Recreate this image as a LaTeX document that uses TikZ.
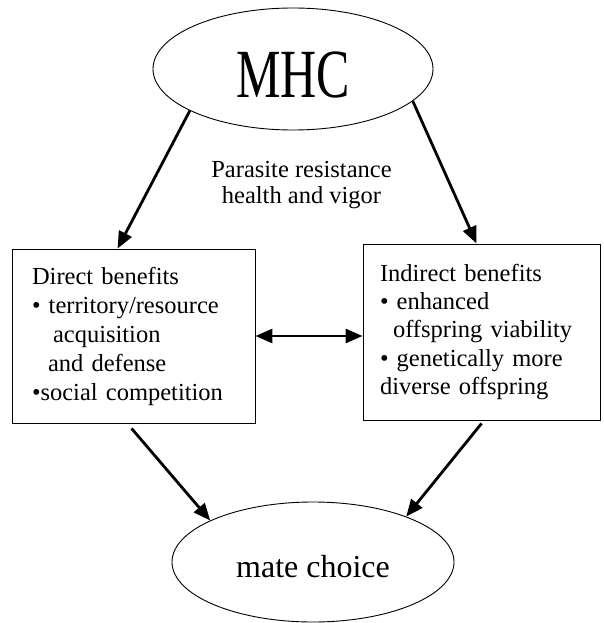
\documentclass[tikz,border=0pt]{standalone}
\usepackage{fontspec}
\setmainfont{Liberation Serif}
\usetikzlibrary{shapes.geometric,arrows.meta}
\begin{document}
\begin{tikzpicture}[x=1pt,y=1pt,
  oval/.style={draw,line width=0.9pt,ellipse,inner sep=0pt,text depth=0pt},
  benefitbox/.style={draw,line width=0.9pt,rectangle,inner ysep=0pt,align=left,text width=203pt},
  boxtext/.style={font=\fontsize{24.5}{29}\selectfont},
  lbl/.style={inner sep=0pt,font=\fontsize{24.5}{26}\selectfont,anchor=base},
  arr/.style={line width=2.8pt,-{Triangle[length=17pt,width=14pt]}},
  darr/.style={line width=2.8pt,{Triangle[length=17pt,width=14pt]}-{Triangle[length=17pt,width=14pt]}}
]
\useasboundingbox (0,0) rectangle (603,-623);
\node[oval,minimum width=280pt,minimum height=122pt,text height=58pt,font=\fontsize{50}{55}\selectfont] (mhc) at (293,-69) {\scalebox{1}[1.38]{MHC}};
\node[oval,minimum width=282pt,minimum height=120pt,text height=30pt,font=\fontsize{32}{36}\selectfont] (mate) at (313,-562) {mate choice};
\node[benefitbox,boxtext,inner xsep=20pt,minimum width=243pt,minimum height=174pt] (db) at (133.5,-336)
  {Direct benefits\\
   • territory/resource\\
   \hspace*{21pt}acquisition\\
   \hspace*{16pt}and defense\\
   •social competition};
\node[benefitbox,boxtext,font=\fontsize{24.5}{28.3}\selectfont,inner xsep=17pt,minimum width=237pt,minimum height=176pt] (ib) at (481.5,-332)
  {Indirect benefits\\
   • enhanced\\
   \hspace*{13pt}offspring viability\\
   • genetically more\\
   diverse offspring};
\node[lbl] (p1) at (301.5,-177) {Parasite resistance};
\node[lbl] (p2) at (301.5,-203) {health and vigor};
\draw[arr] (mhc.202.9) -- ([xshift=106pt]db.north west);
\draw[arr] (mhc.345.4) -- ([xshift=114pt]ib.north west);
\draw[darr] (db.east) -- (db.east -| ib.west);
\draw[arr] ([xshift=120pt,yshift=-5pt]db.south west) -- (mate.158.8);
\draw[arr] ([xshift=119pt,yshift=-3pt]ib.south west) -- (mate.26.6);
\end{tikzpicture}
\end{document}
